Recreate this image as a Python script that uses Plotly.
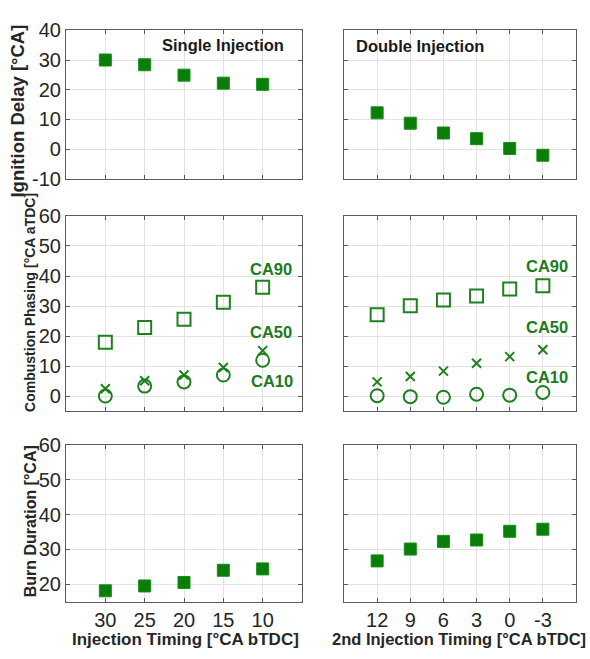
import plotly.graph_objects as go

# ---------------- data ----------------
single_timing = [30, 25, 20, 15, 10]
double_timing = [12, 9, 6, 3, 0, -3]

single_ign_delay = [30.0, 28.4, 24.9, 22.2, 21.8]
double_ign_delay = [12.2, 8.7, 5.4, 3.5, 0.2, -2.1]

single_ca90 = [18.0, 22.9, 25.6, 31.3, 36.3]
single_ca50 = [2.5, 5.2, 7.1, 9.6, 15.2]
single_ca10 = [0.1, 3.4, 4.8, 7.1, 12.0]

double_ca90 = [27.1, 30.1, 32.0, 33.4, 35.7, 36.8]
double_ca50 = [4.8, 6.6, 8.4, 11.0, 13.2, 15.5]
double_ca10 = [0.2, -0.1, -0.3, 0.7, 0.4, 1.3]

single_burn = [18.1, 19.5, 20.5, 24.0, 24.4]
double_burn = [26.7, 30.1, 32.3, 32.7, 35.2, 35.8]

single_ticks = [30, 25, 20, 15, 10]
single_ticktext = ["30", "25", "20", "15", "10"]
double_ticks = [12, 9, 6, 3, 0, -3]
double_ticktext = ["12", "9", "6", "3", "0", "-3"]
ign_ticks = [40, 30, 20, 10, 0, -10]
ign_ticktext = ["40", "30", "20", "10", "0", "-10"]
phase_ticks = [60, 50, 40, 30, 20, 10, 0]
burn_ticks = [60, 50, 40, 30, 20]

# ---------------- style ----------------
FONT = "Liberation Sans, Arial, sans-serif"
GREEN = "#0a7d0a"
OPEN_GREEN = "#1f801f"
LABEL_GREEN = "#1d7a1d"
FRAME = "#5a5a5a"
GRID = "#e2e2e2"
TICKC = "#262626"

fig = go.Figure()

def filled(x, y, xa, ya):
    fig.add_trace(go.Scatter(x=x, y=y, mode="markers", xaxis=xa, yaxis=ya,
                             marker=dict(symbol="square", size=12, color=GREEN,
                                         line=dict(color="#139113", width=1)),
                             showlegend=False))

def hollow(x, y, xa, ya, sym, size):
    fig.add_trace(go.Scatter(x=x, y=y, mode="markers", xaxis=xa, yaxis=ya,
                             marker=dict(symbol=sym, size=size, color=OPEN_GREEN,
                                         line=dict(color=OPEN_GREEN, width=2)),
                             showlegend=False))

filled(single_timing, single_ign_delay, "x", "y")
filled(double_timing, double_ign_delay, "x2", "y2")

hollow(single_timing, single_ca90, "x3", "y3", "square-open", 13)
hollow(single_timing, single_ca50, "x3", "y3", "x-thin-open", 9)
hollow(single_timing, single_ca10, "x3", "y3", "circle-open", 13)
hollow(double_timing, double_ca90, "x4", "y4", "square-open", 13)
hollow(double_timing, double_ca50, "x4", "y4", "x-thin-open", 9)
hollow(double_timing, double_ca10, "x4", "y4", "circle-open", 13)

filled(single_timing, single_burn, "x5", "y5")
filled(double_timing, double_burn, "x6", "y6")

W, H = 590, 659
def px(x): return x / W
def py(y): return 1 - y / H

left_dom = [px(66), px(302)]
right_dom = [px(344), px(576)]
rows = {
    "top": [py(173.5), py(20)],
    "mid": [py(414.2), py(212)],
    "bot": [py(611), py(449)],
}

def axis(dom, rng, ticks, anchor, labels, ticktext=None):
    d = dict(domain=dom, range=rng, tickvals=ticks, showticklabels=labels,
             anchor=anchor, showline=True, linecolor=FRAME, linewidth=1.2,
             mirror="ticks", ticks="inside", ticklen=4, tickcolor=FRAME,
             showgrid=True, gridcolor=GRID, gridwidth=1, zeroline=False,
             tickfont=dict(family=FONT, size=20, color=TICKC))
    if ticktext is not None:
        d["ticktext"] = ticktext
    return d

layout = dict(
    width=W, height=H, margin=dict(l=0, r=0, t=0, b=0),
    paper_bgcolor="white", plot_bgcolor="white", showlegend=False,
    font=dict(family=FONT),
    xaxis=axis(left_dom, [35, 5], single_ticks, "y", False),
    yaxis=axis(rows["top"], [-10, 40], ign_ticks, "x", True, ign_ticktext),
    xaxis2=axis(right_dom, [15, -6], double_ticks, "y2", False),
    yaxis2=axis(rows["top"], [-10, 40], ign_ticks, "x2", False),
    xaxis3=axis(left_dom, [35, 5], single_ticks, "y3", False),
    yaxis3=axis(rows["mid"], [-5, 60], phase_ticks, "x3", True),
    xaxis4=axis(right_dom, [15, -6], double_ticks, "y4", False),
    yaxis4=axis(rows["mid"], [-5, 60], phase_ticks, "x4", False),
    xaxis5=axis(left_dom, [35, 5], single_ticks, "y5", True, single_ticktext),
    yaxis5=axis(rows["bot"], [15, 60], burn_ticks, "x5", True),
    xaxis6=axis(right_dom, [15, -6], double_ticks, "y6", True, double_ticktext),
    yaxis6=axis(rows["bot"], [15, 60], burn_ticks, "x6", False),
)
fig.update_layout(**layout)

def ann(text, x, y, size, color="#1a1a1a", angle=0):
    fig.add_annotation(text=text, x=x, y=y, xref="paper", yref="paper",
                       xanchor="center", yanchor="middle", showarrow=False,
                       textangle=angle,
                       font=dict(family=FONT, size=size, color=color))

ann("<b>Single Injection</b>", px(223), py(35), 16.5)
ann("<b>Double Injection</b>", px(420), py(36), 16.5)

ann("<b>Ignition Delay [°CA]</b>", px(18), py(104), 18.5, "#262626", -90)
ann("<b>Combustion Phasing [°CA aTDC]</b>", px(30), py(302), 14, "#262626", -90)
ann("<b>Burn Duration [°CA]</b>", px(30), py(528), 16, "#262626", -90)

ann("<b>Injection Timing [°CA bTDC]</b>", px(185), py(650), 17, "#262626")
ann("<b>2nd Injection Timing [°CA bTDC]</b>", px(459), py(650), 16.5, "#262626")

# curve labels
ann("<b>CA90</b>", px(271), py(266.7), 16.5, LABEL_GREEN)
ann("<b>CA50</b>", px(271), py(331.7), 16.5, LABEL_GREEN)
ann("<b>CA10</b>", px(272), py(382.3), 16.5, LABEL_GREEN)
ann("<b>CA90</b>", px(547), py(263.3), 16.5, LABEL_GREEN)
ann("<b>CA50</b>", px(547), py(326.7), 16.5, LABEL_GREEN)
ann("<b>CA10</b>", px(547), py(378.3), 16.5, LABEL_GREEN)

fig.write_html(
    "out.html",
    config={"displayModeBar": False},
    post_script=(
        "var gd=document.getElementById('{plot_id}');"
        "gd.style.position='fixed';gd.style.top='0px';gd.style.left='0px';"
        "gd.style.margin='0px';"
        "document.body.style.margin='0px';document.body.style.padding='0px';"
        "document.documentElement.style.overflow='hidden';"
    ),
)
